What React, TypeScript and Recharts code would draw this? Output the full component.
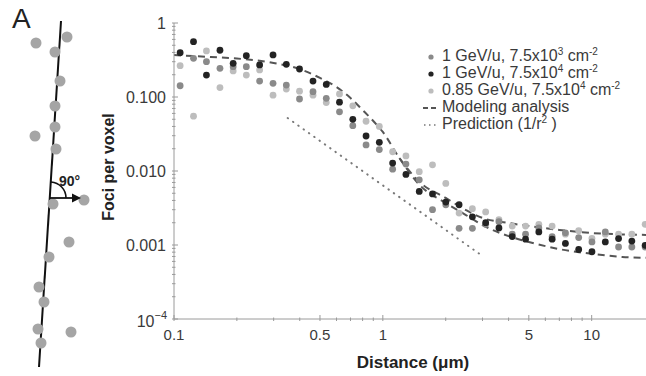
import React from "react";
import { ComposedChart, Scatter, Line, XAxis, YAxis, Legend } from "recharts";

// distance bins (µm)
const distance = [
  0.107, 0.124, 0.143, 0.166, 0.192, 0.222, 0.257, 0.298, 0.345, 0.399, 0.463, 0.536,
  0.62, 0.718, 0.831, 0.962, 1.114, 1.29, 1.494, 1.729, 2.002, 2.318, 2.684, 3.107,
  3.597, 4.165, 4.823, 5.584, 6.465, 7.485, 8.666, 10.03, 11.62, 13.45, 15.57, 18.03,
];

// 1 GeV/u, 7.5x10^3 cm^-2 (mid grey)
const lowFluence = [
  0.142, 0.333, 0.3, 0.244, 0.257, 0.257, 0.164, 0.153, 0.145, 0.094, 0.118, 0.096,
  0.063, 0.041, 0.0225, 0.0195, 0.0106, 0.0124, 0.0076, 0.003, 0.0035, 0.00168, 0.00168, 0.0019,
  0.00206, 0.0014, 0.0014, 0.0017, 0.0013, 0.00146, 0.00126, 0.0011, 0.0015, 0.00094, 0.00094, 0.00094,
];

// 1 GeV/u, 7.5x10^4 cm^-2 (black)
const highFluence = [
  0.397, 0.56, 0.198, 0.428, 0.285, 0.362, 0.271, 0.37, 0.276, 0.239, 0.164, 0.148,
  0.085, 0.05, 0.0297, 0.0244, 0.0128, 0.009, 0.0053, 0.0049, 0.0038, 0.0035, 0.0024, 0.002,
  0.0017, 0.0013, 0.0012, 0.0015, 0.0012, 0.00105, 0.00087, 0.00081, 0.0011, 0.00122, 0.00113, 0.00099,
];

// 0.85 GeV/u, 7.5x10^4 cm^-2 (light grey)
const lowEnergy = [
  0.265, 0.055, 0.419, 0.134, 0.225, 0.198, 0.232, 0.106, 0.128, 0.12, 0.106, 0.084,
  0.11, 0.076, 0.047, 0.04, 0.0182, 0.016, 0.0098, 0.0121, 0.0068, 0.0027, 0.0031, 0.0028,
  0.0022, 0.0018, 0.0018, 0.0019, 0.0018, 0.0014, 0.00156, 0.00123, 0.0014, 0.0014, 0.0014, 0.0019,
];

// modeling analysis, two dashed curves (shared until ~1.2 µm)
const modelX = [0.1, 0.15, 0.2, 0.3, 0.4, 0.5, 0.6, 0.7, 0.8, 0.9, 1, 1.2, 1.5, 2, 2.5, 3, 4, 5, 7, 10, 14, 18.2];
const modelUpper = [
  0.369, 0.347, 0.331, 0.288, 0.239, 0.181, 0.1365, 0.0969, 0.0667, 0.0474, 0.0337, 0.015,
  0.0071, 0.00432, 0.00297, 0.00232, 0.00198, 0.00181, 0.0016, 0.00145, 0.00139, 0.00137,
];
const modelLowerX = [1.2, 1.5, 2, 2.5, 3, 4, 5, 7, 10, 14, 18.2];
const modelLower = [0.015, 0.00647, 0.0037, 0.00254, 0.00186, 0.00132, 0.0011, 0.00088, 0.00076, 0.00069, 0.00067];

// 1/r^2 prediction
const predX = [0.35, 1, 3];
const predY = [0.052, 0.0064, 0.00071];

const xTicks = [0.1, 0.2, 0.3, 0.4, 0.5, 0.6, 0.7, 0.8, 0.9, 1, 2, 3, 4, 5, 6, 7, 8, 9, 10];
const xLabels: Record<string, string> = { "0.1": "0.1", "0.5": "0.5", "1": "1", "5": "5", "10": "10" };
const yTicks = [
  0.0001, 0.0002, 0.0003, 0.0004, 0.0005, 0.0006, 0.0007, 0.0008, 0.0009,
  0.001, 0.002, 0.003, 0.004, 0.005, 0.006, 0.007, 0.008, 0.009,
  0.01, 0.02, 0.03, 0.04, 0.05, 0.06, 0.07, 0.08, 0.09,
  0.1, 0.2, 0.3, 0.4, 0.5, 0.6, 0.7, 0.8, 0.9, 1,
];
const yLabels: Record<string, string> = { "1": "1", "0.1": "0.100", "0.01": "0.010", "0.001": "0.001" };

const FONT = '"Liberation Sans", Arial, Helvetica, sans-serif';
const AXIS = "#9a9a9a";
const TEXT = "#3a3a3a";
const C_MID = "#8a8a8a";
const C_DARK = "#232323";
const C_LIGHT = "#bdbdbd";

const pts = (xs: number[], ys: number[]) => xs.map((x, i) => ({ x, y: ys[i] }));

const dot = (fill: string) => (p: any) => <circle cx={p.cx} cy={p.cy} r={3.4} fill={fill} />;

function BottomTick(props: any) {
  const { x, y, payload } = props;
  const lab = xLabels[String(payload.value)];
  return (
    <g>
      <line x1={x} y1={y} x2={x} y2={y - (lab ? 6 : 3.5)} stroke={AXIS} />
      {lab && (
        <text x={x} y={y + 19} textAnchor="middle" fontSize={15} fill={TEXT} fontFamily={FONT}>
          {lab}
        </text>
      )}
    </g>
  );
}

function TopTick(props: any) {
  const { x, y, payload } = props;
  const lab = xLabels[String(payload.value)];
  return <line x1={x} y1={y} x2={x} y2={y + (lab ? 6 : 3.5)} stroke={AXIS} />;
}

function LeftTick(props: any) {
  const { x, y, payload } = props;
  const v = payload.value;
  const lab = yLabels[String(v)];
  const major = !!lab || v === 0.0001;
  return (
    <g>
      <line x1={x} y1={y} x2={x + (major ? 6 : 3.5)} y2={y} stroke={AXIS} />
      {lab && (
        <text x={x - 6} y={y + 5.5} textAnchor="end" fontSize={16} fill={TEXT} fontFamily={FONT}>
          {lab}
        </text>
      )}
      {v === 0.0001 && (
        <text x={x - 5} y={y + 8} textAnchor="end" fontSize={16} fill={TEXT} fontFamily={FONT}>
          10
          <tspan dy={-8} fontSize={11}>
            −4
          </tspan>
        </text>
      )}
    </g>
  );
}

function LegendBox() {
  const row = { display: "block", height: 17, lineHeight: "17px", whiteSpace: "nowrap" as const };
  const mark = { display: "inline-block", width: 16, marginRight: 3, textAlign: "center" as const, verticalAlign: "middle" };
  const sup = { fontSize: 10, verticalAlign: "super", lineHeight: 0 };
  const circle = (c: string) => (
    <span style={mark}>
      <svg width={8} height={8} style={{ display: "block", margin: "0 auto" }}>
        <circle cx={4} cy={4} r={2.6} fill={c} />
      </svg>
    </span>
  );
  return (
    <div style={{ fontFamily: FONT, fontSize: 16, color: TEXT }}>
      <div style={row}>
        {circle(C_MID)}1 GeV/u, 7.5x10<sup style={sup}>3</sup> cm<sup style={sup}>-2</sup>
      </div>
      <div style={row}>
        {circle(C_DARK)}1 GeV/u, 7.5x10<sup style={sup}>4</sup> cm<sup style={sup}>-2</sup>
      </div>
      <div style={row}>
        {circle(C_LIGHT)}0.85 GeV/u, 7.5x10<sup style={sup}>4</sup> cm<sup style={sup}>-2</sup>
      </div>
      <div style={row}>
        <span style={mark}>
          <svg width={16} height={6} style={{ display: "block" }}>
            <line x1={0} y1={3} x2={16} y2={3} stroke="#555" strokeWidth={2} strokeDasharray="5 3" />
          </svg>
        </span>
        Modeling analysis
      </div>
      <div style={row}>
        <span style={mark}>
          <svg width={16} height={6} style={{ display: "block" }}>
            <line x1={1} y1={3} x2={16} y2={3} stroke="#777" strokeWidth={1.6} strokeDasharray="1.5 3.5" />
          </svg>
        </span>
        Prediction (1/r<sup style={sup}>2</sup> )
      </div>
    </div>
  );
}

// schematic on the left: track with foci and the perpendicular distance
const fociDots = [
  [67, 37], [36, 43], [55, 52], [60, 81], [55, 106], [55, 127], [35, 136], [56, 149],
  [84, 200], [53, 204], [69, 242], [49, 257], [39, 287], [44, 302], [71, 332], [38, 329], [41, 343],
];

export default function App() {
  return (
    <div style={{ position: "absolute", left: 0, top: 0, width: 646, height: 376, background: "#fff", fontFamily: FONT }}>
      <ComposedChart width={646} height={376} margin={{ top: 23, right: 0, bottom: 0, left: 0 }}>
        <XAxis
          dataKey="x"
          type="number"
          scale="log"
          domain={[0.1, 18.2]}
          allowDataOverflow
          ticks={xTicks}
          interval={0}
          height={57}
          tickSize={0}
          tickLine={false}
          axisLine={{ stroke: AXIS }}
          tick={<BottomTick />}
        />
        <XAxis
          xAxisId="top"
          orientation="top"
          dataKey="x"
          type="number"
          scale="log"
          domain={[0.1, 18.2]}
          allowDataOverflow
          ticks={xTicks}
          interval={0}
          height={0}
          tickSize={0}
          tickLine={false}
          axisLine={{ stroke: AXIS }}
          tick={<TopTick />}
        />
        <YAxis
          dataKey="y"
          type="number"
          scale="log"
          domain={[0.0001, 1]}
          allowDataOverflow
          ticks={yTicks}
          interval={0}
          width={174}
          tickSize={0}
          tickLine={false}
          axisLine={{ stroke: AXIS }}
          tick={<LeftTick />}
        />
        <Legend
          layout="vertical"
          align="center"
          verticalAlign="middle"
          wrapperStyle={{ left: 423, top: 47, width: 225 }}
          content={() => <LegendBox />}
        />
        <Scatter name="0.85 GeV/u" data={pts(distance, lowEnergy)} fill={C_LIGHT} shape={dot(C_LIGHT)} isAnimationActive={false} />
        <Scatter name="1 GeV/u low" data={pts(distance, lowFluence)} fill={C_MID} shape={dot(C_MID)} isAnimationActive={false} />
        <Scatter name="1 GeV/u high" data={pts(distance, highFluence)} fill={C_DARK} shape={dot(C_DARK)} isAnimationActive={false} />
        <Line
          data={pts(modelX, modelUpper)}
          dataKey="y"
          type="monotone"
          stroke="#555"
          strokeWidth={2}
          strokeDasharray="7 5"
          dot={false}
          activeDot={false}
          isAnimationActive={false}
        />
        <Line
          data={pts(modelLowerX, modelLower)}
          dataKey="y"
          type="monotone"
          stroke="#555"
          strokeWidth={2}
          strokeDasharray="7 5"
          dot={false}
          activeDot={false}
          isAnimationActive={false}
        />
        <Line
          xAxisId="top"
          data={pts(predX, predY)}
          dataKey="y"
          type="linear"
          stroke="#7a7a7a"
          strokeWidth={2}
          strokeLinecap="round"
          strokeDasharray="0.5 6"
          dot={false}
          activeDot={false}
          isAnimationActive={false}
        />
      </ComposedChart>
      <svg width={646} height={376} style={{ position: "absolute", left: 0, top: 0, pointerEvents: "none" }}>
        <text x={12} y={28} fontSize={28} fill="#222" fontFamily={FONT}>
          A
        </text>
        <line x1={61} y1={21} x2={39} y2={367} stroke="#111" strokeWidth={2} />
        {fociDots.map(([cx, cy], i) => (
          <circle key={i} cx={cx} cy={cy} r={5.5} fill="#a5a5a5" />
        ))}
        <path d="M 51 182 A 16 16 0 0 1 66 198" fill="none" stroke="#111" strokeWidth={1.6} />
        <line x1={50} y1={198} x2={74} y2={198} stroke="#111" strokeWidth={1.8} />
        <polygon points="72,193.5 81,198 72,202.5" fill="#111" />
        <text x={59} y={186} fontSize={14} fontWeight="bold" fill="#222" fontFamily={FONT}>
          90°
        </text>
        <text
          transform="translate(114,167) rotate(-90)"
          textAnchor="middle"
          fontSize={16}
          fontWeight="bold"
          fill="#222"
          fontFamily={FONT}
        >
          Foci per voxel
        </text>
        <text x={413} y={368} textAnchor="middle" fontSize={17} fontWeight="bold" fill="#222" fontFamily={FONT}>
          Distance (μm)
        </text>
      </svg>
    </div>
  );
}
